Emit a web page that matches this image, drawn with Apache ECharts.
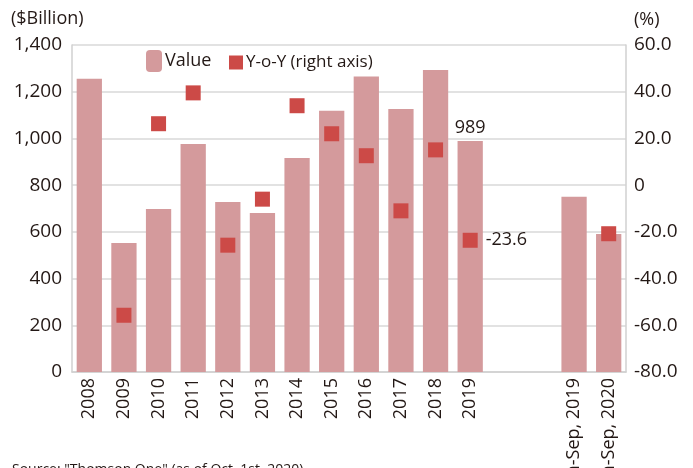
<!DOCTYPE html>
<html style="height: 100%">
<head>
	<meta charset="utf-8">
</head>
<body style="height: 100%; margin: 0; background: #fff">
<div id="container" style="width: 693px; height: 468px"></div>
<script type="text/javascript" src="https://cdn.jsdelivr.net/npm/echarts@6/dist/echarts.min.js"></script>
<script type="text/javascript">
	var categories = ['2008', '2009', '2010', '2011', '2012', '2013', '2014', '2015', '2016', '2017', '2018', '2019', ' ', '  ', 'Jan-Sep, 2019', 'Jan-Sep, 2020'];
	var values = [1255, 552, 698, 976, 728, 681, 916, 1118, 1265, 1126, 1293, 989, null, null, 750, 591];
	var yoy = [null, -55.7, 26.3, 39.5, -25.7, -6.0, 34.0, 22.0, 12.6, -11.0, 15.1, -23.6, null, null, null, -20.8];
	var labelledIndex = 11;   // only 2019 gets value labels

	var textColor = '#231815';
	var fontFamily = '"Open Sans", "Noto Sans", sans-serif';

	var dom = document.getElementById("container");
	var myChart = echarts.init(dom);

	var barData = values.map(function (v, i) {
		if (i == labelledIndex) {
			return {value: v, label: {show: true, position: 'top', distance: 4, color: textColor, fontSize: 18, fontFamily: fontFamily}};
		}
		return v;
	});
	var yoyData = yoy.map(function (v, i) {
		if (i == labelledIndex) {
			return {value: v, label: {show: true, position: 'right', distance: 8, color: textColor, fontSize: 18, fontFamily: fontFamily, formatter: function (p) { return p.value.toFixed(1); }}};
		}
		return v;
	});

	var option = {
		animation: false,
		textStyle: {fontFamily: fontFamily, color: textColor},
		grid: {left: 72, right: 67, top: 45, bottom: 96, outerBoundsMode: 'none', containLabel: false},
		legend: [
			{
				data: ['Value'],
				left: 146, top: 50, padding: 0,
				itemWidth: 16, itemHeight: 22,
				textStyle: {fontSize: 18, color: textColor, padding: [0, 0, 0, -2]}
			},
			{
				data: ['Y-o-Y (right axis)'],
				left: 229, top: 54, padding: 0,
				itemWidth: 14, itemHeight: 14,
				textStyle: {fontSize: 17, color: textColor, padding: [0, 0, 0, -2]}
			}
		],
		graphic: [
			{type: 'text', left: 11, top: 10, style: {text: '($Billion)', fontSize: 18, fill: textColor, fontFamily: fontFamily}},
			{type: 'text', left: 634, top: 11, style: {text: '(%)', fontSize: 18, fill: textColor, fontFamily: fontFamily}},
			{type: 'text', left: 12, top: 463, style: {text: 'Source: "Thomson One" (as of Oct. 1st, 2020)', fontSize: 14, fill: textColor, fontFamily: fontFamily}}
		],
		xAxis: {
			type: 'category',
			data: categories,
			axisLine: {lineStyle: {color: '#d0d0d0', width: 1.5}},
			axisTick: {show: false},
			axisLabel: {rotate: 90, interval: 0, fontSize: 18, color: textColor, margin: 6}
		},
		yAxis: [
			{
				type: 'value',
				min: 0, max: 1400, interval: 200,
				axisLine: {show: true, lineStyle: {color: '#d0d0d0', width: 1.5}},
				axisTick: {show: false},
				splitLine: {lineStyle: {color: '#d9d9d9', width: 1.5}},
				axisLabel: {fontSize: 19, color: textColor, margin: 10, formatter: function (v) { return v.toLocaleString('en-US'); }}
			},
			{
				type: 'value',
				min: -80, max: 60, interval: 20,
				axisLine: {show: true, lineStyle: {color: '#d0d0d0', width: 1.5}},
				axisTick: {show: false},
				splitLine: {show: false},
				axisLabel: {fontSize: 19, color: textColor, margin: 8, formatter: function (v) { return v === 0 ? '0' : v.toFixed(1); }}
			}
		],
		series: [
			{
				name: 'Value',
				type: 'bar',
				data: barData,
				barCategoryGap: '27%',
				itemStyle: {color: '#d49a9c'}
			},
			{
				name: 'Y-o-Y (right axis)',
				type: 'scatter',
				yAxisIndex: 1,
				data: yoyData,
				symbol: 'rect',
				symbolSize: 15,
				itemStyle: {color: '#cc4a47', opacity: 1}
			}
		]
	};

	myChart.setOption(option, true);
</script>
</body>
</html>
